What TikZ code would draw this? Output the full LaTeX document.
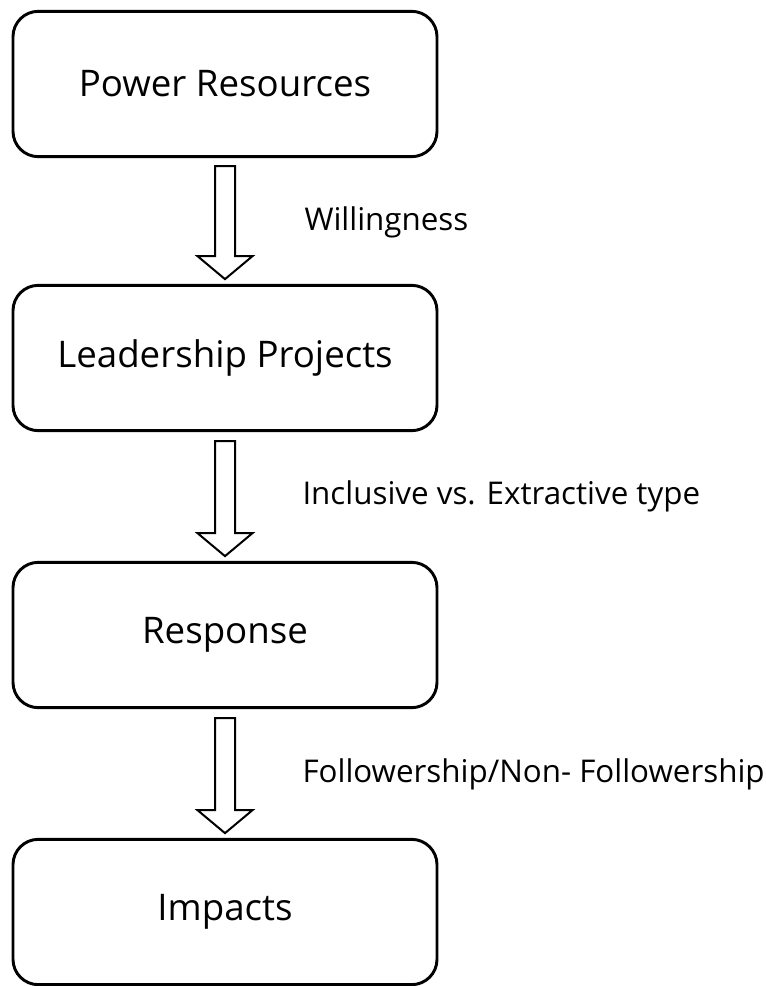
\documentclass[tikz,border=0pt]{standalone}
\usepackage{fontspec}
\setmainfont{Open Sans}
\usetikzlibrary{positioning}

\tikzset{every picture/.style={line width=0.75pt}}
\tikzset{
  stage/.style={draw, line width=2.2pt, rounded corners=19pt, minimum width=318pt, minimum height=109pt, inner sep=0pt, font=\fontsize{27.5}{33}\selectfont},
  hollow/.style={draw, line width=1.5pt, fill=white},
  why/.style={anchor=west, inner sep=0pt, font=\fontsize{23.5}{28}\selectfont}
}

\begin{document}
\begin{tikzpicture}[x=0.75pt,y=0.75pt,yscale=-1,xscale=1]
\useasboundingbox (0,0) rectangle (766,986);

% boxes
\node[stage] (power) at (225,84) {Power Resources};
\node[stage] (lead) at (225,358) {Leadership Projects};
\node[stage] (resp) at (225,635) {Response};
\node[stage] (imp) at (225,912) {Impacts};

% block arrows
\draw[hollow] (power.south) ++(-10,8) -- ++(0,90) -- ++(-17.5,0) -- ++(27.5,23) -- ++(27.5,-23) -- ++(-17.5,0) -- ++(0,-90) -- cycle;
\draw[hollow] (lead.south) ++(-10,9) -- ++(0,92) -- ++(-17.5,0) -- ++(27.5,23) -- ++(27.5,-23) -- ++(-17.5,0) -- ++(0,-92) -- cycle;
\draw[hollow] (resp.south) ++(-10,9) -- ++(0,92) -- ++(-17.5,0) -- ++(27.5,23) -- ++(27.5,-23) -- ++(-17.5,0) -- ++(0,-92) -- cycle;

% labels
\node[why] (w) at (304,222) {Willingness};
\node[why] (ie) at (302,496) {Inclusive vs. Extractive type};
\node[why] (ff) at (302,774) {Followership/Non- Followership};

\end{tikzpicture}
\end{document}
